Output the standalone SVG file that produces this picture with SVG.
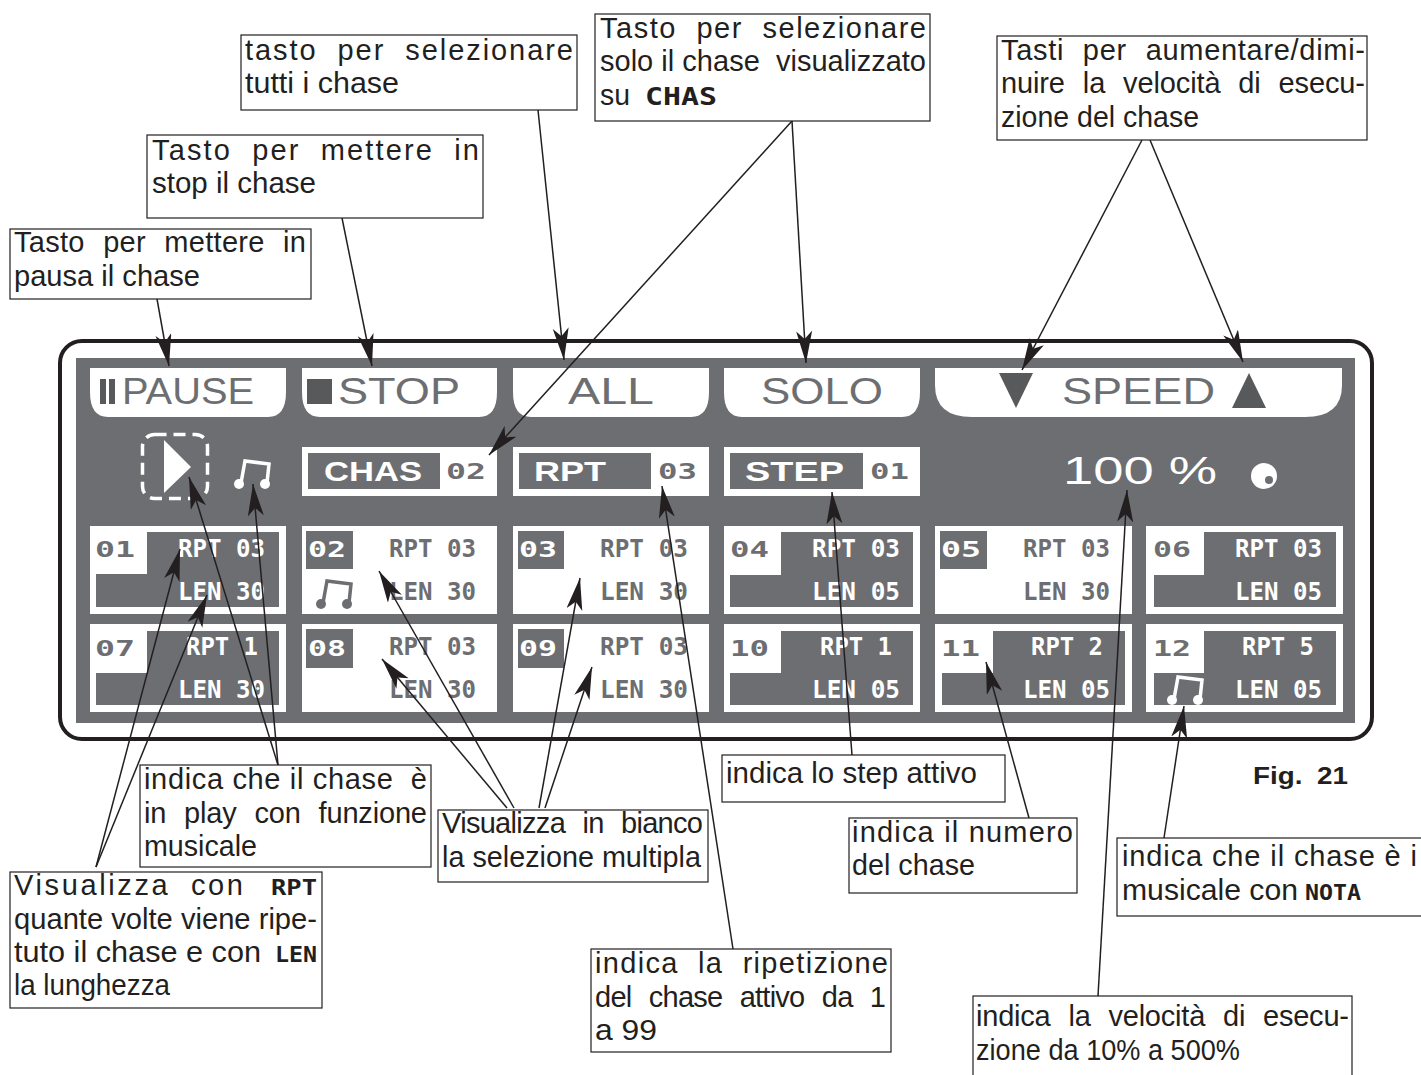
<svg xmlns="http://www.w3.org/2000/svg" width="1421" height="1075" viewBox="0 0 1421 1075">
<style>
.bg{fill:#fff}
.g{fill:#6d6e71}
.w{fill:#fff}
.d{fill:#58595b}
.box{fill:#fff;stroke:#231f20;stroke-width:1.2}
.lb{font-family:"Liberation Sans",sans-serif;font-size:29px;fill:#231f20}
.j{word-spacing:10px}
.kw{font-family:"DejaVu Sans Mono",monospace;font-weight:700;font-size:21px;fill:#231f20}
.big{font-family:"Liberation Sans",sans-serif;font-size:36px;fill:#6d6e71}
.stn{font-family:"Liberation Sans",sans-serif;font-weight:700;font-size:28px;fill:#fff}
.mono{font-family:"DejaVu Sans Mono",monospace;font-weight:700;font-size:24px}
.id{font-family:"DejaVu Sans Mono",monospace;font-weight:700;font-size:22px}
.tw{fill:#fff}
.tg{fill:#6d6e71}
.con line{stroke:#231f20;stroke-width:1.5;marker-end:url(#ah)}
</style>
<defs>
<marker id="ah" markerUnits="userSpaceOnUse" markerWidth="34" markerHeight="18" refX="32" refY="8" orient="auto">
<path d="M0,0 L32,8 L0,16 L8,8 Z" fill="#231f20"/>
</marker>
<g id="note">
<path d="M7,24 L11,2 L35,5 L33,24" fill="none" stroke="currentColor" stroke-width="3.500"/>
<ellipse cx="5" cy="25" rx="5" ry="5" fill="currentColor"/>
<ellipse cx="31" cy="25" rx="5" ry="5" fill="currentColor"/>
</g>
</defs>
<rect class="bg" width="1421" height="1075"/>
<g id="panel">
<rect x="60" y="341" width="1312" height="398" rx="22" ry="22" fill="#fff" stroke="#231f20" stroke-width="4"/>
<rect class="g" x="76" y="358" width="1279" height="365"/>
</g>
<g id="btn-pause">
<path class="w" d="M90,368H286V392Q286,417 268,417H108Q90,417 90,392Z"/>
<rect class="d" x="100" y="379" width="6" height="25"/><rect class="d" x="109" y="379" width="6" height="25"/>
<text class="big" x="122" y="404" textLength="132" lengthAdjust="spacingAndGlyphs">PAUSE</text>
</g>
<g id="btn-stop">
<path class="w" d="M302,368H497V392Q497,417 479,417H320Q302,417 302,392Z"/>
<rect class="d" x="307" y="379" width="25" height="25"/>
<text class="big" x="338" y="404" textLength="122" lengthAdjust="spacingAndGlyphs">STOP</text>
</g>
<g id="btn-all">
<path class="w" d="M513,368H709V392Q709,417 691,417H531Q513,417 513,392Z"/>
<text class="big" x="568" y="404" textLength="86" lengthAdjust="spacingAndGlyphs">ALL</text>
</g>
<g id="btn-solo">
<path class="w" d="M724,368H920V392Q920,417 902,417H742Q724,417 724,392Z"/>
<text class="big" x="761" y="404" textLength="122" lengthAdjust="spacingAndGlyphs">SOLO</text>
</g>
<g id="btn-speed">
<path class="w" d="M935,368H1342V385Q1342,417 1305,417H972Q935,417 935,385Z"/>
<path class="d" d="M999,373H1033L1016,408Z"/>
<path class="d" d="M1232,408H1266L1249,373Z"/>
<text class="big" x="1062" y="404" textLength="153" lengthAdjust="spacingAndGlyphs">SPEED</text>
</g>
<g id="play">
<rect x="142.500" y="434.500" width="65" height="64" rx="12" fill="none" stroke="#fff" stroke-width="3.500" stroke-dasharray="12 7"/>
<path class="w" d="M164,440L191,467L164,493Z"/>
<use href="#note" x="234" y="459" color="#fff"/>
</g>
<g id="chas">
<rect class="w" x="302" y="447" width="195" height="49"/><rect class="g" x="308" y="453" width="132" height="36"/>
<text class="stn" x="324" y="481" textLength="98" lengthAdjust="spacingAndGlyphs">CHAS</text>
<text class="id tg" x="446" y="479" textLength="40" lengthAdjust="spacingAndGlyphs">02</text>
</g>
<g id="rpt">
<rect class="w" x="513" y="447" width="196" height="49"/><rect class="g" x="519" y="453" width="132" height="36"/>
<text class="stn" x="534" y="481" textLength="72" lengthAdjust="spacingAndGlyphs">RPT</text>
<text class="id tg" x="658" y="479" textLength="39" lengthAdjust="spacingAndGlyphs">03</text>
</g>
<g id="step">
<rect class="w" x="724" y="447" width="196" height="49"/><rect class="g" x="730" y="453" width="133" height="36"/>
<text class="stn" x="745" y="481" textLength="99" lengthAdjust="spacingAndGlyphs">STEP</text>
<text class="id tg" x="870" y="479" textLength="39" lengthAdjust="spacingAndGlyphs">01</text>
</g>
<g id="speed-val">
<text class="big" style="font-size:38px;fill:#fff" x="1063" y="484" textLength="154" lengthAdjust="spacingAndGlyphs">100 %</text>
<circle class="w" cx="1264" cy="476" r="13"/><circle class="g" cx="1269" cy="480" r="4"/>
</g>
<g id="cell01"><rect class="w" x="90" y="526" width="196" height="88"/><rect class="g" x="96" y="532" width="183" height="75"/><rect class="w" x="90" y="526" width="57" height="48"/>
<text class="id tg" x="95" y="557" textLength="40" lengthAdjust="spacingAndGlyphs">01</text><text class="mono tw" x="178" y="557" textLength="87" lengthAdjust="spacingAndGlyphs">RPT 03</text><text class="mono tw" x="178" y="600" textLength="87" lengthAdjust="spacingAndGlyphs">LEN 30</text></g>
<g id="cell02"><rect class="w" x="302" y="526" width="195" height="88"/><rect class="g" x="306" y="531" width="47" height="38"/>
<text class="id tw" x="308" y="557" textLength="38" lengthAdjust="spacingAndGlyphs">02</text><use href="#note" x="316" y="579" color="#6d6e71"/><text class="mono tg" x="389" y="557" textLength="87" lengthAdjust="spacingAndGlyphs">RPT 03</text><text class="mono tg" x="389" y="600" textLength="87" lengthAdjust="spacingAndGlyphs">LEN 30</text></g>
<g id="cell03"><rect class="w" x="513" y="526" width="196" height="88"/><rect class="g" x="518" y="531" width="46" height="38"/>
<text class="id tw" x="519" y="557" textLength="38" lengthAdjust="spacingAndGlyphs">03</text><text class="mono tg" x="600" y="557" textLength="88" lengthAdjust="spacingAndGlyphs">RPT 03</text><text class="mono tg" x="600" y="600" textLength="88" lengthAdjust="spacingAndGlyphs">LEN 30</text></g>
<g id="cell04"><rect class="w" x="724" y="526" width="196" height="88"/><rect class="g" x="730" y="532" width="183" height="75"/><rect class="w" x="724" y="526" width="57" height="49"/>
<text class="id tg" x="730" y="557" textLength="39" lengthAdjust="spacingAndGlyphs">04</text><text class="mono tw" x="812" y="557" textLength="88" lengthAdjust="spacingAndGlyphs">RPT 03</text><text class="mono tw" x="812" y="600" textLength="88" lengthAdjust="spacingAndGlyphs">LEN 05</text></g>
<g id="cell05"><rect class="w" x="935" y="526" width="197" height="88"/><rect class="g" x="940" y="531" width="47" height="38"/>
<text class="id tw" x="941" y="557" textLength="40" lengthAdjust="spacingAndGlyphs">05</text><text class="mono tg" x="1023" y="557" textLength="87" lengthAdjust="spacingAndGlyphs">RPT 03</text><text class="mono tg" x="1023" y="600" textLength="87" lengthAdjust="spacingAndGlyphs">LEN 30</text></g>
<g id="cell06"><rect class="w" x="1146" y="526" width="197" height="88"/><rect class="g" x="1154" y="532" width="182" height="75"/><rect class="w" x="1146" y="526" width="58" height="49"/>
<text class="id tg" x="1153" y="557" textLength="38" lengthAdjust="spacingAndGlyphs">06</text><text class="mono tw" x="1235" y="557" textLength="87" lengthAdjust="spacingAndGlyphs">RPT 03</text><text class="mono tw" x="1235" y="600" textLength="87" lengthAdjust="spacingAndGlyphs">LEN 05</text></g>
<g id="cell07"><rect class="w" x="90" y="624" width="196" height="88"/><rect class="g" x="96" y="631" width="183" height="74"/><rect class="w" x="90" y="624" width="57" height="49"/>
<text class="id tg" x="95" y="656" textLength="40" lengthAdjust="spacingAndGlyphs">07</text><text class="mono tw" x="186" y="655" textLength="72" lengthAdjust="spacingAndGlyphs">RPT 1</text><text class="mono tw" x="178" y="698" textLength="87" lengthAdjust="spacingAndGlyphs">LEN 30</text></g>
<g id="cell08"><rect class="w" x="302" y="624" width="195" height="88"/><rect class="g" x="306" y="629" width="47" height="39"/>
<text class="id tw" x="308" y="656" textLength="38" lengthAdjust="spacingAndGlyphs">08</text><text class="mono tg" x="389" y="655" textLength="87" lengthAdjust="spacingAndGlyphs">RPT 03</text><text class="mono tg" x="389" y="698" textLength="87" lengthAdjust="spacingAndGlyphs">LEN 30</text></g>
<g id="cell09"><rect class="w" x="513" y="624" width="196" height="88"/><rect class="g" x="518" y="629" width="46" height="39"/>
<text class="id tw" x="519" y="656" textLength="38" lengthAdjust="spacingAndGlyphs">09</text><text class="mono tg" x="600" y="655" textLength="88" lengthAdjust="spacingAndGlyphs">RPT 03</text><text class="mono tg" x="600" y="698" textLength="88" lengthAdjust="spacingAndGlyphs">LEN 30</text></g>
<g id="cell10"><rect class="w" x="724" y="624" width="196" height="88"/><rect class="g" x="730" y="631" width="183" height="74"/><rect class="w" x="724" y="624" width="57" height="49"/>
<text class="id tg" x="730" y="656" textLength="39" lengthAdjust="spacingAndGlyphs">10</text><text class="mono tw" x="820" y="655" textLength="72" lengthAdjust="spacingAndGlyphs">RPT 1</text><text class="mono tw" x="812" y="698" textLength="88" lengthAdjust="spacingAndGlyphs">LEN 05</text></g>
<g id="cell11"><rect class="w" x="935" y="624" width="197" height="88"/><rect class="g" x="942" y="631" width="183" height="74"/><rect class="w" x="935" y="624" width="58" height="49"/>
<text class="id tg" x="941" y="656" textLength="39" lengthAdjust="spacingAndGlyphs">11</text><text class="mono tw" x="1031" y="655" textLength="72" lengthAdjust="spacingAndGlyphs">RPT 2</text><text class="mono tw" x="1023" y="698" textLength="87" lengthAdjust="spacingAndGlyphs">LEN 05</text></g>
<g id="cell12"><rect class="w" x="1146" y="624" width="197" height="88"/><rect class="g" x="1154" y="631" width="182" height="74"/><rect class="w" x="1146" y="624" width="58" height="49"/>
<text class="id tg" x="1153" y="656" textLength="38" lengthAdjust="spacingAndGlyphs">12</text><use href="#note" x="1167" y="675" color="#fff"/><text class="mono tw" x="1242" y="655" textLength="72" lengthAdjust="spacingAndGlyphs">RPT 5</text><text class="mono tw" x="1235" y="698" textLength="87" lengthAdjust="spacingAndGlyphs">LEN 05</text></g>
<g id="connectors" class="con">
<line x1="157" y1="299" x2="169" y2="366"/>
<line x1="342" y1="218" x2="372" y2="366"/>
<line x1="538" y1="110" x2="564" y2="360"/>
<line x1="792" y1="121" x2="489" y2="455"/>
<line x1="792" y1="121" x2="806" y2="363"/>
<line x1="1142" y1="140" x2="1022" y2="370"/>
<line x1="1150" y1="140" x2="1243" y2="362"/>
<line x1="96" y1="867" x2="180" y2="549"/>
<line x1="96" y1="867" x2="207" y2="595"/>
<line x1="278" y1="765" x2="189" y2="477"/>
<line x1="278" y1="765" x2="253" y2="484"/>
<line x1="507" y1="808" x2="382" y2="659"/>
<line x1="514" y1="808" x2="379" y2="571"/>
<line x1="539" y1="808" x2="580" y2="578"/>
<line x1="545" y1="808" x2="592" y2="667"/>
<line x1="733" y1="949" x2="662" y2="486"/>
<line x1="852" y1="755" x2="832" y2="492"/>
<line x1="1029" y1="818" x2="986" y2="662"/>
<line x1="1098" y1="996" x2="1127" y2="490"/>
<line x1="1164" y1="838" x2="1184" y2="706"/>
</g>
<g id="c-pausa"><rect class="box" x="10" y="229" width="301" height="70"/>
<text class="lb j" x="14" y="252" textLength="292">Tasto per mettere in</text><text class="lb" x="14" y="286" textLength="186" lengthAdjust="spacingAndGlyphs">pausa il chase</text></g>
<g id="c-stop"><rect class="box" x="147" y="135" width="336" height="83"/>
<text class="lb j" x="152" y="160" textLength="327">Tasto per mettere in</text><text class="lb" x="152" y="193" textLength="164" lengthAdjust="spacingAndGlyphs">stop il chase</text></g>
<g id="c-tutti"><rect class="box" x="241" y="35" width="336" height="75"/>
<text class="lb j" x="245" y="60" textLength="328">tasto per selezionare</text><text class="lb" x="245" y="93" textLength="154" lengthAdjust="spacingAndGlyphs">tutti i chase</text></g>
<g id="c-solo"><rect class="box" x="595" y="14" width="335" height="107"/>
<text class="lb j" x="600" y="38" textLength="326">Tasto per selezionare</text><text class="lb" xml:space="preserve" x="600" y="71" textLength="326">solo il chase  visualizzato</text><text class="lb" x="600" y="105" textLength="30" lengthAdjust="spacingAndGlyphs">su</text><text class="kw" style="font-size:24px" x="645" y="105" textLength="72" lengthAdjust="spacingAndGlyphs">CHAS</text></g>
<g id="c-speed"><rect class="box" x="997" y="36" width="370" height="104"/>
<text class="lb j" x="1001" y="60" textLength="364">Tasti per aumentare/dimi-</text><text class="lb j" x="1001" y="93" textLength="364">nuire la velocità di esecu-</text><text class="lb" x="1001" y="127" textLength="198" lengthAdjust="spacingAndGlyphs">zione del chase</text></g>
<g id="c-play"><rect class="box" x="140" y="765" width="291" height="102"/>
<text class="lb" xml:space="preserve" x="144" y="789" textLength="283">indica che il chase  è</text><text class="lb j" x="144" y="823" textLength="283">in play con funzione</text><text class="lb" x="144" y="856" textLength="113" lengthAdjust="spacingAndGlyphs">musicale</text></g>
<g id="c-multi"><rect class="box" x="438" y="810" width="270" height="72"/>
<text class="lb j" x="442" y="833" textLength="261">Visualizza in bianco</text><text class="lb" x="442" y="867" textLength="259" lengthAdjust="spacingAndGlyphs">la selezione multipla</text></g>
<g id="c-rpt"><rect class="box" x="10" y="872" width="312" height="136"/>
<text class="lb j" x="14" y="895" textLength="229">Visualizza con</text><text class="kw" x="271" y="895" textLength="46" lengthAdjust="spacingAndGlyphs">RPT</text>
<text class="lb" x="14" y="929" textLength="303" lengthAdjust="spacingAndGlyphs">quante volte viene ripe-</text><text class="lb" x="14" y="962" textLength="247" lengthAdjust="spacingAndGlyphs">tuto il chase e con</text><text class="kw" x="275" y="962" textLength="42" lengthAdjust="spacingAndGlyphs">LEN</text><text class="lb" x="14" y="995" textLength="156" lengthAdjust="spacingAndGlyphs">la lunghezza</text></g>
<g id="c-rip"><rect class="box" x="591" y="949" width="300" height="103"/>
<text class="lb j" x="595" y="973" textLength="293">indica la ripetizione</text><text class="lb j" x="595" y="1007" textLength="291">del chase attivo da 1</text><text class="lb" x="595" y="1040" textLength="62" lengthAdjust="spacingAndGlyphs">a 99</text></g>
<g id="c-step"><rect class="box" x="722" y="755" width="283" height="47"/>
<text class="lb" x="726" y="783" textLength="251" lengthAdjust="spacingAndGlyphs">indica lo step attivo</text></g>
<g id="c-num"><rect class="box" x="849" y="818" width="228" height="75"/>
<text class="lb" x="852" y="842" textLength="221">indica il numero</text><text class="lb" x="852" y="875" textLength="123" lengthAdjust="spacingAndGlyphs">del chase</text></g>
<g id="c-nota"><rect class="box" x="1117" y="838" width="320" height="78"/>
<text class="lb" x="1122" y="866" textLength="295">indica che il chase è i</text><text class="lb" x="1122" y="900" textLength="176" lengthAdjust="spacingAndGlyphs">musicale con</text><text class="kw" x="1305" y="900" textLength="56" lengthAdjust="spacingAndGlyphs">NOTA</text></g>
<g id="c-vel"><rect class="box" x="973" y="996" width="379" height="100"/>
<text class="lb j" x="976" y="1026" textLength="373">indica la velocità di esecu-</text><text class="lb" x="976" y="1060" textLength="264" lengthAdjust="spacingAndGlyphs">zione da 10% a 500%</text></g>
<text id="fig" x="1253" y="784" font-family="Liberation Sans, sans-serif" font-weight="700" font-size="24" word-spacing="6" fill="#231f20" textLength="95" lengthAdjust="spacingAndGlyphs">Fig. 21</text>
</svg>
